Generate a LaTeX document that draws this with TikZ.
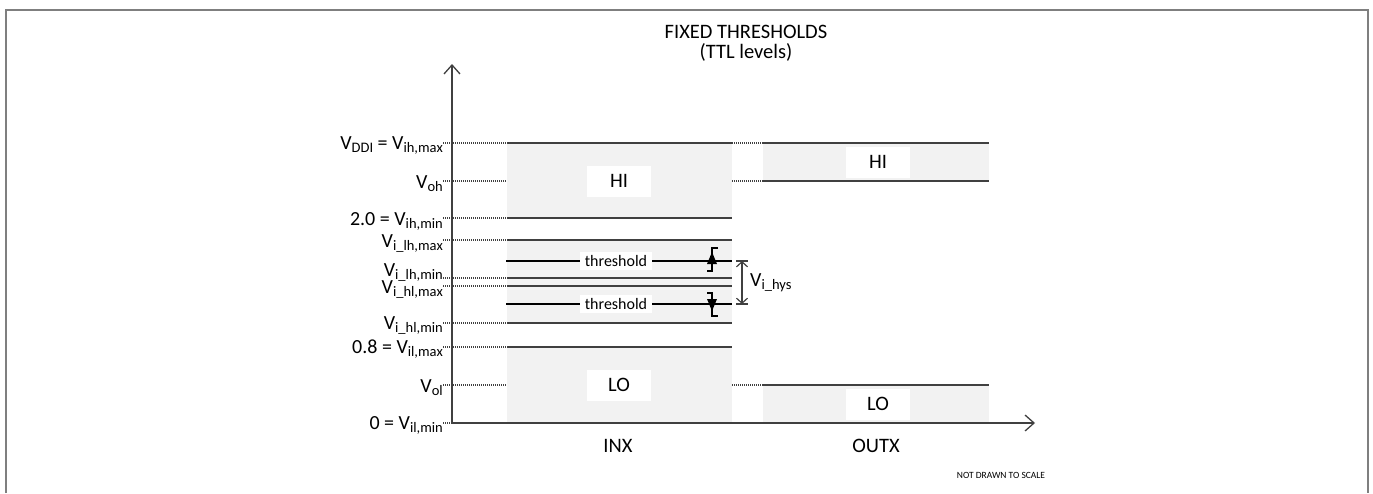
\documentclass[tikz,border=0pt]{standalone}
\usepackage{fontspec}
\setmainfont{Carlito}
\usetikzlibrary{arrows.meta}
\newcommand\sbs[1]{\raisebox{-3pt}{\fontsize{14.5}{15}\selectfont #1}}
\definecolor{framegray}{HTML}{7F7F7F}
\definecolor{bandfill}{HTML}{F2F2F2}
\definecolor{linegray}{HTML}{404040}
\begin{document}
\begin{tikzpicture}[x=1pt,y=-1pt,
  frameline/.style={draw=framegray, line width=2pt},
  band/.style={fill=bandfill, draw=none},
  lvl/.style={draw=linegray, line width=1.2pt},
  lead/.style={draw=linegray, line width=1.2pt, dash pattern=on 1pt off 1pt},
  thr/.style={draw=black, line width=2.6pt},
  axisline/.style={draw=linegray, line width=1.3pt, -{Straight Barb[length=9pt,width=16pt]}},
  lbl/.style={font=\fontsize{20}{24}\selectfont, inner sep=0pt, anchor=base east},
  tag/.style={fill=white, minimum width=64pt, minimum height=31pt, inner sep=0pt, font=\fontsize{20.5}{24}\selectfont},
  thrtag/.style={fill=white, minimum width=72pt, minimum height=18pt, inner sep=0pt, font=\fontsize{16}{18}\selectfont},
  title/.style={font=\fontsize{20.5}{24}\selectfont, inner sep=0pt, anchor=base},
  marker/.style={draw=black, line width=1.2pt},
]
\useasboundingbox (0,0) rectangle (1373,493);
% frame
\draw[frameline] (6,493) -- (6,10) -- (1368,10) -- (1368,493);
% title
\node[title] (t1) at (746,38) {FIXED THRESHOLDS};
\node[title] (t2) at (746,58) {(TTL levels)};
% bands INX
\fill[band] (507,143) rectangle (732,218);
\fill[band] (507,240) rectangle (732,323);
\fill[band] (507,347) rectangle (732,423);
% bands OUTX
\fill[band] (763,143) rectangle (989,181);
\fill[band] (763,385) rectangle (989,423);
% level lines INX
\foreach \yy in {143,218,240,278,286,323,347}
  \draw[lvl] (507,\yy) -- (732,\yy);
% level lines OUTX
\foreach \yy in {143,181,385}
  \draw[lvl] (763,\yy) -- (989,\yy);
% leaders
\foreach \yy in {143,181,218,240,278,286,323,347,385,423}
  \draw[lead] (443,\yy) -- (507,\yy);
\foreach \yy in {143,181,385}
  \draw[lead] (732,\yy) -- (763,\yy);
% axes
\coordinate (O) at (452,423);
\coordinate (Ytop) at (452,64);
\coordinate (Xend) at (1035,423);
\draw[axisline] (O) -- (Ytop);
\draw[axisline] (O) -- (Xend);
% threshold lines
\draw[thr] (506,261) -- (732,261);
\draw[thr] (506,304) -- (732,304);
\node[thrtag] (th1) at (616,261) {threshold};
\node[thrtag] (th2) at (616,304) {threshold};
% markers
\draw[marker] (718,248) -- (712,248) -- (712,271) -- (707,271);
\fill (712,252) -- (717,264) -- (707,264) -- cycle;
\draw[marker] (707,293) -- (712,293) -- (712,316) -- (718,316);
\fill (712,311) -- (717,299) -- (707,299) -- cycle;
% hysteresis dimension
\coordinate (h1) at (742,261);
\coordinate (h2) at (742,304);
\draw[draw=linegray, line width=1.2pt, {Straight Barb[length=5pt,width=11pt]}-{Straight Barb[length=5pt,width=11pt]}] (h1) -- (h2);
\draw[draw=linegray, line width=1.2pt] (736,261) -- (748,261) (736,304) -- (748,304);
\node[font=\fontsize{20}{24}\selectfont, inner sep=0pt, anchor=base west] (hys) at (750,286) {V\sbs{i\_hys}};
% tags
\node[tag] (hiin) at (619,181) {HI};
\node[tag] (loin) at (619,385) {LO};
\node[tag] (hiout) at (878,162) {HI};
\node[tag] (loout) at (878,404) {LO};
% axis labels
\node[title] (inx) at (618,452) {INX};
\node[title] (outx) at (876,452) {OUTX};
\node[font=\fontsize{9.5}{11}\selectfont, inner sep=0pt, anchor=base] (nts) at (1001,478) {NOT DRAWN TO SCALE};
% level labels
\node[lbl] (l1) at (443,149) {V\sbs{DDI} = V\sbs{ih,max}};
\node[lbl] (l2) at (443,188) {V\sbs{oh}};
\node[lbl] (l3) at (443,225) {2.0 = V\sbs{ih,min}};
\node[lbl] (l4) at (443,247) {V\sbs{i\_lh,max}};
\node[lbl] (l5) at (443,276) {V\sbs{i\_lh,min}};
\node[lbl] (l6) at (443,293) {V\sbs{i\_hl,max}};
\node[lbl] (l7) at (443,329) {V\sbs{i\_hl,min}};
\node[lbl] (l8) at (443,353) {0.8 = V\sbs{il,max}};
\node[lbl] (l9) at (443,392) {V\sbs{ol}};
\node[lbl] (l10) at (443,429) {0 = V\sbs{il,min}};
\end{tikzpicture}
\end{document}
